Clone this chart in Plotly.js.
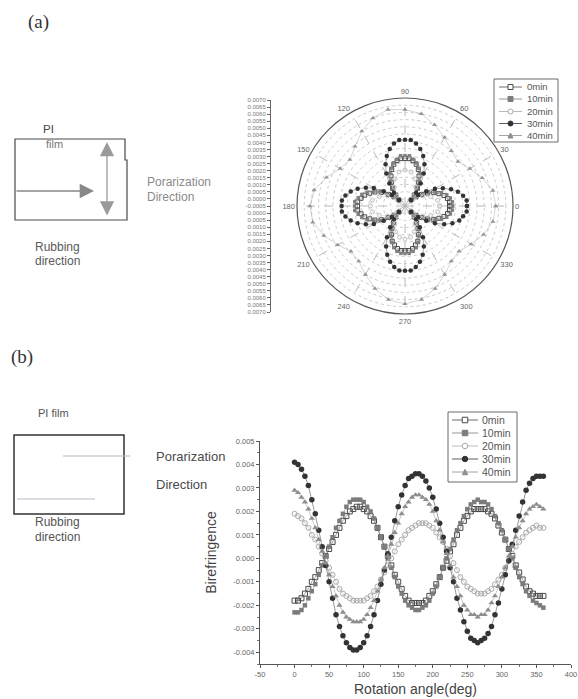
<!DOCTYPE html>
<html><head><meta charset="utf-8">
<script src="https://cdn.plot.ly/plotly-3.0.1.min.js"></script>
<style>html,body{margin:0;padding:0;background:#fff;}#chart{width:578px;height:699px;}</style>
</head><body><div id="chart"></div>
<script>
// ---------- data ----------
const seriesNames = ['0min','10min','20min','30min','40min'];

// (b) birefringence vs rotation angle
const angleB = [0,5,10,15,20,25,30,35,40,45,50,55,60,65,70,75,80,85,90,95,100,105,110,115,120,125,130,135,140,145,150,155,160,165,170,175,180,185,190,195,200,205,210,215,220,225,230,235,240,245,250,255,260,265,270,275,280,285,290,295,300,305,310,315,320,325,330,335,340,345,350,355,360];
const bire0 = [-0.0018,-0.0018,-0.0017,-0.0015,-0.0013,-0.0010,-0.0008,-0.0005,-0.0002,0.0001,0.0004,0.0007,0.0010,0.0013,0.0016,0.0018,0.0020,0.0021,0.0022,0.0022,0.0021,0.0020,0.0018,0.0016,0.0013,0.0009,0.0005,0.0001,-0.0003,-0.0007,-0.0010,-0.0013,-0.0016,-0.0018,-0.0019,-0.0019,-0.0019,-0.0019,-0.0018,-0.0016,-0.0014,-0.0011,-0.0008,-0.0004,-0.0001,0.0003,0.0006,0.0010,0.0013,0.0016,0.0018,0.0020,0.0021,0.0021,0.0021,0.0021,0.0020,0.0019,0.0017,0.0014,0.0011,0.0008,0.0004,0.0001,-0.0003,-0.0006,-0.0009,-0.0012,-0.0014,-0.0015,-0.0016,-0.0016,-0.0016];
const bire10 = [-0.0023,-0.0023,-0.0022,-0.0020,-0.0017,-0.0014,-0.0011,-0.0007,-0.0003,0.0001,0.0005,0.0009,0.0013,0.0016,0.0019,0.0022,0.0024,0.0025,0.0025,0.0025,0.0024,0.0022,0.0020,0.0017,0.0013,0.0009,0.0005,0.0000,-0.0004,-0.0008,-0.0012,-0.0015,-0.0018,-0.0020,-0.0021,-0.0022,-0.0022,-0.0021,-0.0020,-0.0018,-0.0015,-0.0012,-0.0008,-0.0004,0.0000,0.0004,0.0008,0.0012,0.0015,0.0018,0.0021,0.0023,0.0024,0.0025,0.0024,0.0024,0.0023,0.0021,0.0018,0.0015,0.0012,0.0008,0.0004,0.0000,-0.0004,-0.0008,-0.0011,-0.0014,-0.0016,-0.0018,-0.0019,-0.0020,-0.0021];
const bire20 = [0.0019,0.0018,0.0017,0.0015,0.0013,0.0010,0.0008,0.0005,0.0002,-0.0001,-0.0004,-0.0007,-0.0010,-0.0013,-0.0015,-0.0016,-0.0017,-0.0018,-0.0018,-0.0018,-0.0018,-0.0017,-0.0016,-0.0014,-0.0012,-0.0009,-0.0006,-0.0003,0.0000,0.0003,0.0006,0.0008,0.0010,0.0012,0.0013,0.0014,0.0015,0.0015,0.0015,0.0014,0.0013,0.0011,0.0009,0.0007,0.0004,0.0001,-0.0002,-0.0005,-0.0008,-0.0010,-0.0012,-0.0013,-0.0014,-0.0015,-0.0015,-0.0015,-0.0014,-0.0013,-0.0011,-0.0009,-0.0007,-0.0004,-0.0001,0.0002,0.0005,0.0007,0.0009,0.0011,0.0012,0.0013,0.0014,0.0013,0.0013];
const bire30 = [0.0041,0.0040,0.0038,0.0035,0.0031,0.0025,0.0019,0.0012,0.0005,-0.0003,-0.0010,-0.0017,-0.0024,-0.0029,-0.0033,-0.0036,-0.0038,-0.0039,-0.0039,-0.0038,-0.0036,-0.0033,-0.0029,-0.0024,-0.0018,-0.0011,-0.0005,0.0002,0.0009,0.0016,0.0022,0.0027,0.0031,0.0034,0.0035,0.0036,0.0036,0.0035,0.0033,0.0030,0.0026,0.0021,0.0015,0.0009,0.0003,-0.0004,-0.0010,-0.0017,-0.0022,-0.0027,-0.0031,-0.0034,-0.0035,-0.0036,-0.0035,-0.0034,-0.0032,-0.0029,-0.0024,-0.0019,-0.0013,-0.0007,-0.0001,0.0006,0.0012,0.0018,0.0024,0.0029,0.0032,0.0034,0.0035,0.0035,0.0035];
const bire40 = [0.0029,0.0028,0.0026,0.0024,0.0021,0.0017,0.0013,0.0008,0.0003,-0.0002,-0.0007,-0.0012,-0.0016,-0.0020,-0.0023,-0.0025,-0.0026,-0.0027,-0.0027,-0.0027,-0.0026,-0.0024,-0.0021,-0.0018,-0.0014,-0.0009,-0.0004,0.0001,0.0006,0.0011,0.0015,0.0019,0.0022,0.0024,0.0026,0.0027,0.0027,0.0026,0.0025,0.0023,0.0020,0.0016,0.0012,0.0007,0.0002,-0.0003,-0.0008,-0.0012,-0.0016,-0.0020,-0.0022,-0.0024,-0.0024,-0.0025,-0.0024,-0.0024,-0.0022,-0.0019,-0.0016,-0.0012,-0.0008,-0.0004,0.0001,0.0005,0.0009,0.0013,0.0016,0.0019,0.0021,0.0022,0.0023,0.0022,0.0021];

// (a) polar plot
const theta5 = [0,5,10,15,20,25,30,35,40,45,50,55,60,65,70,75,80,85,90,95,100,105,110,115,120,125,130,135,140,145,150,155,160,165,170,175,180,185,190,195,200,205,210,215,220,225,230,235,240,245,250,255,260,265,270,275,280,285,290,295,300,305,310,315,320,325,330,335,340,345,350,355];
const theta10 = [0,10,20,30,40,50,60,70,80,90,100,110,120,130,140,150,160,170,180,190,200,210,220,230,240,250,260,270,280,290,300,310,320,330,340,350];
const polar0 = [0.0026,0.0026,0.0025,0.0023,0.0020,0.0017,0.0013,0.0009,0.0005,0.0001,0.0005,0.0010,0.0014,0.0018,0.0022,0.0025,0.0027,0.0028,0.0028,0.0028,0.0027,0.0025,0.0022,0.0018,0.0014,0.0010,0.0005,0.0001,0.0005,0.0009,0.0014,0.0018,0.0021,0.0024,0.0026,0.0028,0.0028,0.0028,0.0026,0.0024,0.0021,0.0018,0.0014,0.0009,0.0005,0.0001,0.0005,0.0009,0.0013,0.0017,0.0021,0.0023,0.0025,0.0026,0.0026,0.0026,0.0025,0.0023,0.0021,0.0017,0.0013,0.0009,0.0005,0.0001,0.0005,0.0009,0.0013,0.0017,0.0020,0.0023,0.0025,0.0026];
const polar10 = [0.0028,0.0028,0.0027,0.0025,0.0022,0.0018,0.0014,0.0010,0.0005,0.0001,0.0005,0.0010,0.0015,0.0020,0.0023,0.0026,0.0028,0.0030,0.0030,0.0030,0.0028,0.0026,0.0023,0.0020,0.0015,0.0010,0.0005,0.0001,0.0005,0.0010,0.0015,0.0019,0.0023,0.0026,0.0028,0.0030,0.0030,0.0030,0.0028,0.0026,0.0023,0.0019,0.0015,0.0010,0.0005,0.0001,0.0005,0.0010,0.0014,0.0018,0.0022,0.0025,0.0027,0.0028,0.0028,0.0028,0.0027,0.0025,0.0022,0.0018,0.0014,0.0010,0.0005,0.0001,0.0005,0.0010,0.0014,0.0018,0.0022,0.0025,0.0027,0.0028];
const polar20 = [0.0019,0.0018,0.0014,0.0009,0.0003,0.0004,0.0010,0.0015,0.0019,0.0020,0.0019,0.0015,0.0010,0.0004,0.0003,0.0009,0.0014,0.0018,0.0019,0.0018,0.0014,0.0009,0.0003,0.0004,0.0009,0.0014,0.0017,0.0018,0.0017,0.0014,0.0009,0.0004,0.0003,0.0009,0.0014,0.0018];
const polar30 = [0.0038,0.0038,0.0036,0.0033,0.0029,0.0024,0.0019,0.0013,0.0007,0.0001,0.0007,0.0014,0.0021,0.0027,0.0032,0.0036,0.0039,0.0041,0.0041,0.0041,0.0039,0.0036,0.0032,0.0027,0.0021,0.0014,0.0007,0.0001,0.0007,0.0013,0.0020,0.0025,0.0030,0.0034,0.0037,0.0039,0.0039,0.0039,0.0037,0.0034,0.0030,0.0025,0.0020,0.0013,0.0007,0.0001,0.0007,0.0013,0.0020,0.0026,0.0031,0.0035,0.0038,0.0040,0.0040,0.0040,0.0038,0.0035,0.0031,0.0026,0.0020,0.0013,0.0007,0.0001,0.0007,0.0013,0.0019,0.0025,0.0030,0.0034,0.0036,0.0038];
const polar40 = [0.0058,0.0057,0.0052,0.0047,0.0043,0.0045,0.0050,0.0055,0.0060,0.0062,0.0063,0.0060,0.0055,0.0049,0.0045,0.0047,0.0053,0.0059,0.0061,0.0060,0.0055,0.0049,0.0044,0.0045,0.0050,0.0056,0.0061,0.0063,0.0061,0.0056,0.0050,0.0045,0.0044,0.0048,0.0053,0.0057];

// tick labels
const xTickVals = [-50,0,50,100,150,200,250,300,350,400];
const xTickText = ['-50','0','50','100','150','200','250','300','350','400'];
const yTickVals = [-0.004,-0.003,-0.002,-0.001,0,0.001,0.002,0.003,0.004,0.005];
const yTickText = ['-0.004','-0.003','-0.002','-0.001','0.000','0.001','0.002','0.003','0.004','0.005'];
const angTickVals = [0,30,60,90,120,150,180,210,240,270,300,330];
const angTickText = ['0','30','60','90','120','150','180','210','240','270','300','330'];
const radialScaleText = ['0.0070','0.0065','0.0060','0.0055','0.0050','0.0045','0.0040','0.0035','0.0030','0.0025','0.0020','0.0015','0.0010','0.0005','0.0000','-0.0005','0.0000','0.0005','0.0010','0.0015','0.0020','0.0025','0.0030','0.0035','0.0040','0.0045','0.0050','0.0055','0.0060','0.0065','0.0070'];

// ---------- styles ----------
const W = 578, H = 699;
const fx = x => x / W, fy = y => 1 - y / H;
const FONT = 'Liberation Sans, Arial, sans-serif';
const styles = [
  {symbol:'square-open', color:'#4a4a4a', size:5, lw:1},
  {symbol:'square', color:'#7c7c7c', size:4.5, lw:0},
  {symbol:'circle-open', color:'#a9a9a9', size:5, lw:1},
  {symbol:'circle', color:'#333333', size:5.5, lw:0},
  {symbol:'triangle-up', color:'#8e8e8e', size:5.5, lw:0}
];
const polarColors = ['#4a4a4a','#808080','#c2c2c2','#333333','#959595'];
const bireData = [bire0, bire10, bire20, bire30, bire40];
const polarData = [[theta5, polar0],[theta5, polar10],[theta10, polar20],[theta5, polar30],[theta10, polar40]];

const traces = [];
polarData.forEach((d, i) => {
  const s = styles[i], c = polarColors[i];
  traces.push({type:'scatterpolar', subplot:'polar', theta: d[0].concat([d[0][0]]), r: d[1].concat([d[1][0]]),
    name: seriesNames[i], mode:'lines+markers',
    line:{color:c, width:0.4},
    marker:{symbol:s.symbol, color:c, size:s.size-1, line:{width:s.lw, color:c}}, showlegend:false});
});
bireData.forEach((d, i) => {
  const s = styles[i];
  traces.push({type:'scatter', x: angleB, y: d, xaxis:'x', yaxis:'y', name: seriesNames[i], mode:'lines+markers',
    line:{color:s.color, width:0.5},
    marker:{symbol:s.symbol, color:s.color, size:s.size, line:{width:s.lw, color:s.color}}, showlegend:false});
});
traces.push({type:'scatter', x:[], y:[], xaxis:'x2', yaxis:'y2', showlegend:false});

const radialTickVals = radialScaleText.map((t, k) => 0.0075 - k * 0.0005);

// ---------- custom legends, shapes, annotations ----------
const shapes = [];
const annotations = [];
function addLegend(box, rows, x1, x2, textX, fs, symSize) {
  shapes.push({type:'rect', xref:'paper', yref:'paper', x0:fx(box[0]), x1:fx(box[1]), y0:fy(box[3]), y1:fy(box[2]),
    line:{color:'#6a6a6a', width:1}, fillcolor:'#fff'});
  rows.forEach((ry, i) => {
    const s = styles[i];
    shapes.push({type:'line', xref:'paper', yref:'paper', x0:fx(x1), x1:fx(x2), y0:fy(ry), y1:fy(ry), line:{color:s.color, width:0.8}});
    const xm = (x1 + x2) / 2, h = symSize / 2;
    const open = s.symbol.indexOf('open') >= 0;
    const base = {xref:'paper', yref:'paper', line:{color:s.color, width:1}, fillcolor: open ? '#fff' : s.color};
    if (s.symbol.startsWith('square')) shapes.push(Object.assign({type:'rect', x0:fx(xm-h), x1:fx(xm+h), y0:fy(ry+h), y1:fy(ry-h)}, base));
    else if (s.symbol.startsWith('circle')) shapes.push(Object.assign({type:'circle', x0:fx(xm-h), x1:fx(xm+h), y0:fy(ry+h), y1:fy(ry-h)}, base));
    else shapes.push(Object.assign({type:'path', path:`M ${fx(xm-h)} ${fy(ry+h)} L ${fx(xm+h)} ${fy(ry+h)} L ${fx(xm)} ${fy(ry-h)} Z`}, base));
    annotations.push({xref:'paper', yref:'paper', x:fx(textX), y:fy(ry), xanchor:'left', yanchor:'middle', showarrow:false,
      text: seriesNames[i], font:{family:FONT, size:fs, color:'#555'}});
  });
}
addLegend([494,558,79,142], [87,99,111.5,123.5,135.5], 499, 522, 525, 9.5, 5);
addLegend([448,517,412,482], [420,433,446,459,472], 452, 478, 480, 10.5, 5.5);

// (a) film rectangle (with small jog on the right edge)
shapes.push({type:'path', xref:'paper', yref:'paper',
  path:`M ${fx(15)} ${fy(139)} L ${fx(125)} ${fy(139)} L ${fx(125)} ${fy(160)} L ${fx(127)} ${fy(160)} L ${fx(127)} ${fy(220)} L ${fx(15)} ${fy(220)} Z`,
  line:{color:'#4a4a4a', width:1.2}});
// (b) film rectangle and faint direction lines
shapes.push({type:'rect', xref:'paper', yref:'paper', x0:fx(14), x1:fx(124), y0:fy(514), y1:fy(435), line:{color:'#333', width:1.5}});
shapes.push({type:'line', xref:'paper', yref:'paper', x0:fx(63), x1:fx(130), y0:fy(456), y1:fy(456), line:{color:'#b4b8c6', width:1}});
shapes.push({type:'line', xref:'paper', yref:'paper', x0:fx(17), x1:fx(95), y0:fy(499), y1:fy(499), line:{color:'#b4b8c6', width:1}});

function txt(t, x, y, size, color, opts) {
  annotations.push(Object.assign({xref:'paper', yref:'paper', x:fx(x), y:fy(y), xanchor:'left', yanchor:'middle',
    showarrow:false, text:t, font:{family:FONT, size:size, color:color}}, opts || {}));
}
txt('(a)', 26, 22, 19, '#333', {font:{family:'Liberation Serif, Times New Roman, serif', size:19, color:'#333'}});
txt('(b)', 9, 357, 19, '#333', {font:{family:'Liberation Serif, Times New Roman, serif', size:19, color:'#333'}});
txt('PI', 41, 129, 11.5, '#444');
txt('film', 44, 144, 11, '#777');
txt('Porarization', 145, 182, 12, '#8a8a8a');
txt('Direction', 145, 197, 12, '#8a8a8a');
txt('Rubbing', 33, 247, 12, '#5a5a5a');
txt('direction', 33, 261, 12, '#5a5a5a');
txt('PI film', 36, 413, 11, '#555');
txt('Porarization', 154, 456, 13, '#4a4a4a');
txt('Direction', 154, 484, 13, '#4a4a4a');
txt('Rubbing', 33, 522, 12, '#555');
txt('direction', 33, 537, 12, '#555');

// arrows in (a)
annotations.push({xref:'paper', yref:'paper', x:fx(107), y:fy(142), ax:0, ay:75, text:'', showarrow:true,
  arrowhead:2, startarrowhead:2, arrowside:'end+start', arrowsize:2.2, startarrowsize:2.2, arrowwidth:1.3, arrowcolor:'#9a9a9a'});
annotations.push({xref:'paper', yref:'paper', x:fx(94), y:fy(191), ax:-79, ay:0, text:'', showarrow:true,
  arrowhead:2, arrowsize:2.2, arrowwidth:1.3, arrowcolor:'#888'});

const layout = {
  width:W, height:H, margin:{l:0, r:0, t:0, b:0}, autosize:false,
  paper_bgcolor:'#fff', plot_bgcolor:'rgba(0,0,0,0)', showlegend:false,
  font:{family:FONT, color:'#555'},
  xaxis:{domain:[fx(260), fx(571)], range:[-50,400], anchor:'y', showline:true, linecolor:'#555', linewidth:1,
    ticks:'outside', ticklen:3, tickcolor:'#555', tickmode:'array', tickvals:xTickVals, ticktext:xTickText,
    tickfont:{size:7.5, color:'#666'}, showgrid:false, zeroline:false,
    minor:{ticks:'outside', ticklen:2, dtick:25, tick0:0, tickcolor:'#777', showgrid:false},
    title:{text:'Rotation angle(deg)', font:{size:14, color:'#444'}, standoff:6}},
  yaxis:{domain:[fy(664), fy(441)], range:[-0.0045,0.005], anchor:'x', showline:true, linecolor:'#555', linewidth:1,
    ticks:'outside', ticklen:3, tickcolor:'#555', tickmode:'array', tickvals:yTickVals, ticktext:yTickText,
    tickfont:{size:7.5, color:'#666'}, showgrid:false, zeroline:false,
    minor:{ticks:'outside', ticklen:2, dtick:0.0005, tick0:0, tickcolor:'#777', showgrid:false},
    title:{text:'Birefringence', font:{size:14, color:'#444'}, standoff:13}},
  xaxis2:{domain:[fx(271), fx(272)], range:[0,1], anchor:'y2', visible:false},
  yaxis2:{domain:[fy(312), fy(100)], range:[-0.0075,0.0075], anchor:'x2', showline:true, linecolor:'#666', linewidth:1,
    ticks:'outside', ticklen:3, tickcolor:'#666', tickmode:'array', tickvals:radialTickVals, ticktext:radialScaleText,
    tickfont:{size:6, color:'#777'}, showgrid:false, zeroline:false},
  polar:{domain:{x:[fx(297), fx(513)], y:[fy(314), fy(98)]}, bgcolor:'#fff',
    radialaxis:{range:[-0.0005,0.007], showticklabels:false, ticks:'', showline:false, tickmode:'linear', tick0:0, dtick:0.0005,
      gridcolor:'#cacaca', griddash:'dot', gridwidth:1},
    angularaxis:{rotation:0, direction:'counterclockwise', tickmode:'array', tickvals:angTickVals, ticktext:angTickText,
      tickfont:{size:7.5, color:'#666'}, ticks:'', showline:true, linecolor:'#555', linewidth:1.2,
      gridcolor:'#a8a8a8', griddash:'dash', gridwidth:0.8}},
  shapes: shapes,
  annotations: annotations
};

Plotly.newPlot('chart', traces, layout, {staticPlot:true, displayModeBar:false});
</script></body></html>
